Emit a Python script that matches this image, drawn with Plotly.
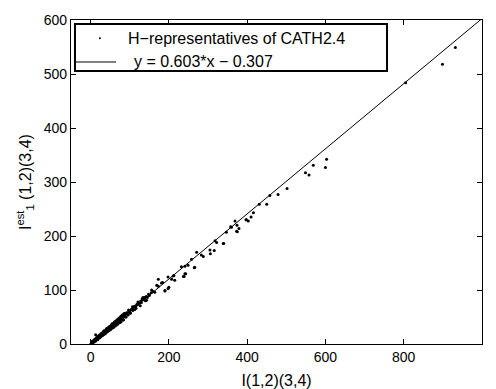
import plotly.graph_objects as go

pts_x = [1,2,2,3,3,4,4,5,5,5,6,6,7,7,7,8,8,9,9,10,10,10,11,11,12,12,13,13,14,14,15,15,15,16,16,17,17,18,18,19,19,20,20,20,
         21,22,22,23,23,24,24,25,25,26,26,27,28,28,29,30,30,30,31,32,32,33,34,34,35,35,36,37,38,38,39,40,40,40,42,43,44,45,
         46,47,48,49,50,50,52,53,54,55,56,57,58,60,60,61,63,64,65,66,68,69,70,72,73,75,76,78,80,80,82,84,86,88,88,90,92,94,
         96,98,100,102,104,106,108,110,112,115,116,118,120,122,125,128,130,132,135,138,140,142,145,148,150,155,
         3,6,9,12,14,18,21,24,27,31,34,37,41,44,47,51,55,59,62,67,71,74,79,83,87,91,97,101,107,113,121,127,134,143,
         5,8,11,16,19,23,26,29,33,36,39,43,46,49,53,57,61,65,69,73,77,81,85,
         4,7,10,13,17,20,25,28,32,35,38,42,45,48,52,56,58,63,66,70,75,78,84,
         156,160,164,169,173,173,181,184,190,190,198,198,200,207,211,213,215,232,237,239,241,241,243,249,258,265,266,271,
         283,288,305,306,316,318,322,339,340,347,358,360,369,373,374,375,379,397,398,403,410,416,431,450,458,479,502,549,
         558,569,600,603,805,899,932]
pts_y = [0.5,1.5,0.8,2.2,1.5,2.8,1.9,3.5,2.6,4.2,3.9,3.1,4.6,3.8,5.5,5.2,4.4,6.1,5.0,6.5,5.4,7.8,7.0,6.0,7.6,6.5,8.4,17,8.9,7.8,
         9.6,8.2,11.5,10.1,8.8,10.8,9.5,11.2,12.8,11.9,10.4,12.6,11.0,14.5,13.1,13.7,12.0,14.4,15.8,14.8,13.2,15.6,17.5,16.0,
         14.3,16.8,17.4,15.5,18.0,18.5,16.6,21,19.2,19.8,17.7,20.5,21.0,23,21.6,19.5,22.3,22.8,23.5,21.2,24.3,24.8,22.5,27.5,
         25.9,27.8,27.0,25.5,28.5,30.5,29.4,27.5,30.8,33,32.0,29.8,33.4,35.5,34.3,32,35.9,37.1,34,39.5,38.5,36,40.2,42.5,41.8,
         38.8,43.5,44.4,47,45.8,43,48.2,49.0,51.5,46.5,51.5,53.4,54,50,55.5,58,57.2,53.5,60.5,61.2,57.5,64,64.5,62,67.5,70,70,
         66,73,72.5,76,75.5,79.5,77,84,82,86,80,88,86,92,90,95,
         4.5,1.8,7.2,5.0,10.5,8.0,15.5,11.5,19.5,16.0,24.5,19.0,28.5,23.5,31.5,27.0,37.5,31.5,41.0,37.0,46.5,40.5,52.0,45.0,
         56.5,50.0,63.0,57.0,69.0,64.0,78.0,71.0,86.0,81.0,
         3.3,5.3,7.3,10.6,12.5,15.2,17.2,19.1,21.8,23.8,25.7,28.4,30.4,32.3,35.0,37.6,40.3,42.9,45.5,48.2,50.8,53.5,56.1,
         2.1,3.7,5.3,6.9,9.0,10.6,13.3,14.8,17.0,18.6,20.1,22.3,23.9,25.4,27.6,29.7,30.7,33.4,35.0,37.1,39.8,41.3,44.5,
         100,97,96,109,120,107,113,114,98,99,103,124,105,120,126,127,118,143,125,125,130,144,130,146,157,141,142,170,
         165,162,174,167,173,191,188,186,186,207,217,216,228,209,220,208,214,230,230,228,235,243,259,259,275,277,288,317,
         313,331,327,342,484,518,549]

fit_slope = 0.603
fit_intercept = -0.307
fit_x = [0, 1000]
fit_y = [fit_slope * v + fit_intercept for v in fit_x]

x_ticks = [0, 200, 400, 600, 800, 1000]
y_ticks = [0, 100, 200, 300, 400, 500, 600]

legend_labels = ["H\u2212representatives of CATH2.4", "y = 0.603*x \u2212 0.307"]

FONT = "Liberation Sans, Arial, Helvetica, sans-serif"

fig = go.Figure()
fig.add_trace(go.Scatter(
    x=pts_x, y=pts_y, mode="markers",
    marker=dict(color="black", size=3, line=dict(width=0)),
    name=legend_labels[0], showlegend=False))
fig.add_trace(go.Scatter(
    x=fit_x, y=fit_y, mode="lines",
    line=dict(color="black", width=1),
    name=legend_labels[1], showlegend=False))

axis_common = dict(
    showgrid=False, zeroline=False, showline=True, linecolor="black", linewidth=1.3,
    mirror="ticks", ticks="inside", ticklen=5, tickcolor="black", tickwidth=1,
    tickfont=dict(family=FONT, size=14, color="black"), automargin=False,
)
fig.update_xaxes(range=[-50, 1000], tickvals=x_ticks, ticktext=[str(v) for v in x_ticks],
                 title=dict(text="I(1,2)(3,4)", font=dict(family=FONT, size=16, color="black"), standoff=14),
                 **axis_common)
fig.update_yaxes(range=[0, 600], tickvals=y_ticks, ticktext=[str(v) for v in y_ticks],
                 title=dict(text="I<sup>est</sup><sub>1</sub> (1,2)(3,4)",
                            font=dict(family=FONT, size=16, color="black"), standoff=8),
                 **axis_common)

# Legend box drawn in plot-area (domain) coordinates
fig.add_shape(type="rect", xref="x domain", yref="y domain", x0=0.0097, x1=0.7689, y0=0.8426, y1=0.9877,
              line=dict(color="black", width=2), fillcolor="white", layer="above")
fig.add_shape(type="line", xref="x domain", yref="y domain", x0=0.0122, x1=0.1095, y0=0.8704, y1=0.8704,
              line=dict(color="black", width=1), layer="above")
fig.add_shape(type="circle", xref="x domain", yref="y domain", x0=0.0678, x1=0.0727, y0=0.9407, y1=0.9469,
              line=dict(color="black", width=0), fillcolor="black", layer="above")
fig.add_annotation(xref="x domain", yref="y domain", x=0.1338, y=0.9444, xanchor="left", yanchor="middle",
                   text=legend_labels[0], showarrow=False, font=dict(family=FONT, size=16, color="black"))
fig.add_annotation(xref="x domain", yref="y domain", x=0.1484, y=0.8704, xanchor="left", yanchor="middle",
                   text=legend_labels[1], showarrow=False, font=dict(family=FONT, size=16, color="black"))

fig.update_layout(
    width=496, height=389,
    margin=dict(l=71, r=14, t=20, b=45),
    paper_bgcolor="white", plot_bgcolor="white",
    showlegend=False,
    font=dict(family=FONT, color="black"),
)

fig.write_html("out.html")
